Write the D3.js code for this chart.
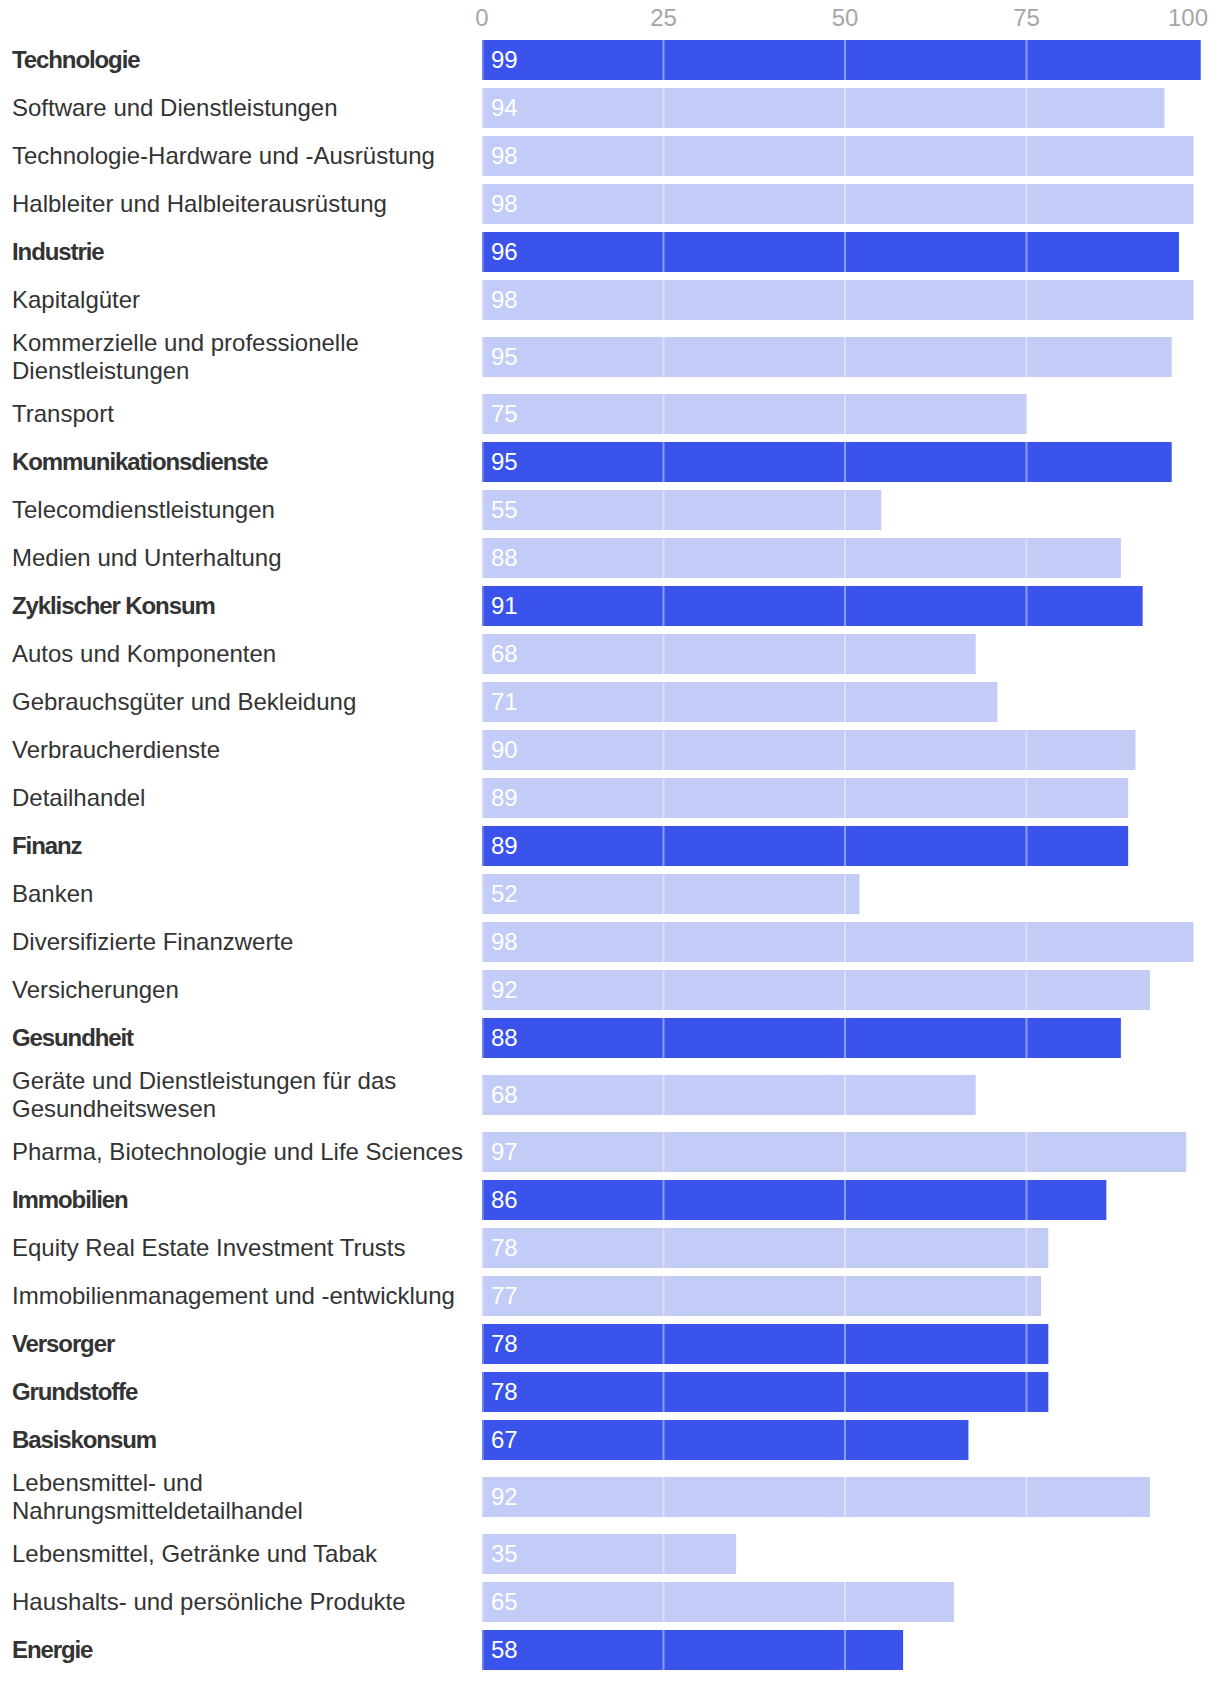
<!DOCTYPE html>
<html><head><meta charset="utf-8">
<script src="https://cdn.jsdelivr.net/npm/d3@7"></script>
<style>
html,body{margin:0;padding:0;background:#fff;}
svg{display:block;font-family:"Liberation Sans",Arial,Helvetica,sans-serif;}
</style></head>
<body><svg id="chart" width="1220" height="1682"></svg>
<script>
const categories = [
  "Technologie","Software und Dienstleistungen","Technologie-Hardware und -Ausrüstung","Halbleiter und Halbleiterausrüstung",
  "Industrie","Kapitalgüter","Kommerzielle und professionelle Dienstleistungen","Transport",
  "Kommunikationsdienste","Telecomdienstleistungen","Medien und Unterhaltung",
  "Zyklischer Konsum","Autos und Komponenten","Gebrauchsgüter und Bekleidung","Verbraucherdienste","Detailhandel",
  "Finanz","Banken","Diversifizierte Finanzwerte","Versicherungen",
  "Gesundheit","Geräte und Dienstleistungen für das Gesundheitswesen","Pharma, Biotechnologie und Life Sciences",
  "Immobilien","Equity Real Estate Investment Trusts","Immobilienmanagement und -entwicklung",
  "Versorger","Grundstoffe",
  "Basiskonsum","Lebensmittel- und Nahrungsmitteldetailhandel","Lebensmittel, Getränke und Tabak","Haushalts- und persönliche Produkte",
  "Energie"
];
const values = [99,94,98,98, 96,98,95,75, 95,55,88, 91,68,71,90,89, 89,52,98,92, 88,68,97, 86,78,77, 78,78, 67,92,35,65, 58];
const sectors = ["Technologie","Industrie","Kommunikationsdienste","Zyklischer Konsum","Finanz","Gesundheit","Immobilien","Versorger","Grundstoffe","Basiskonsum","Energie"];
const tickValues = [0,25,50,75,100];

const svg = d3.select("#chart");
const x = d3.scaleLinear().domain([0,100]).range([482,1208]);
const labelX = 12, maxLabelW = 460, fontSize = 24, lineH = 28;
const rowH1 = 48, extraPerLine = 18, barH = 40, top0 = 36;

// measure & wrap labels
const measure = svg.append("text").attr("font-size", fontSize);
function wrap(label, bold){
  measure.attr("font-weight", bold ? "bold" : "normal")
         .attr("letter-spacing", bold ? "-1.1px" : null);
  const words = label.split(" "); const lines = []; let cur = "";
  for (const w of words){
    const t = cur ? cur + " " + w : w;
    measure.text(t);
    if (measure.node().getComputedTextLength() > maxLabelW && cur){ lines.push(cur); cur = w; }
    else cur = t;
  }
  lines.push(cur); return lines;
}
let y = top0;
const rows = categories.map((c,i)=>{
  const bold = sectors.includes(c);
  const lines = wrap(c, bold);
  const h = rowH1 + (lines.length-1)*extraPerLine;
  const r = {c, v: values[i], bold, lines, cy: y + h/2};
  y += h; return r;
});
measure.remove();

// axis labels
svg.append("g").selectAll("text").data(tickValues).join("text")
  .attr("x", d=>x(d)).attr("y", 18).attr("dy","0.35em")
  .attr("text-anchor", (d,i)=> i===tickValues.length-1 ? "end" : "middle")
  .attr("fill","#a6a6a6").attr("font-size",24).text(d=>d);

// bars
svg.append("g").selectAll("rect").data(rows).join("rect")
  .attr("x", x(0)).attr("y", d=>d.cy - barH/2)
  .attr("width", d=>x(d.v)-x(0)).attr("height", barH)
  .attr("fill", d=> d.bold ? "#3a54eb" : "#c3cbf7");

// gridlines (over bars)
const grid = svg.append("g");
rows.forEach(d=>{
  tickValues.filter(t=>t<d.v).forEach(t=>{
    const gx = t===0 ? x(t)+1 : x(t);
    grid.append("line").attr("x1",gx).attr("x2",gx)
      .attr("y1", d.cy-barH/2).attr("y2", d.cy+barH/2)
      .attr("stroke","#ffffff").attr("stroke-opacity", t===0 ? 0.25 : 0.42).attr("stroke-width",2);
  });
});

// value labels
svg.append("g").selectAll("text").data(rows).join("text")
  .attr("x", x(0)+9).attr("y", d=>d.cy).attr("dy","0.35em")
  .attr("fill","#ffffff").attr("font-size",24).text(d=>d.v);

// category labels
const lab = svg.append("g").selectAll("text").data(rows).join("text")
  .attr("y", d=>d.cy - (d.lines.length-1)*lineH/2)
  .attr("font-size",fontSize)
  .attr("font-weight", d=>d.bold ? "bold" : "normal")
  .attr("letter-spacing", d=>d.bold ? "-1.1px" : null)
  .attr("fill","#333333");
lab.each(function(d){
  const t = d3.select(this);
  d.lines.forEach((l,i)=> t.append("tspan").attr("x",labelX).attr("dy", i===0 ? "0.35em" : lineH).text(l));
});
</script></body></html>
